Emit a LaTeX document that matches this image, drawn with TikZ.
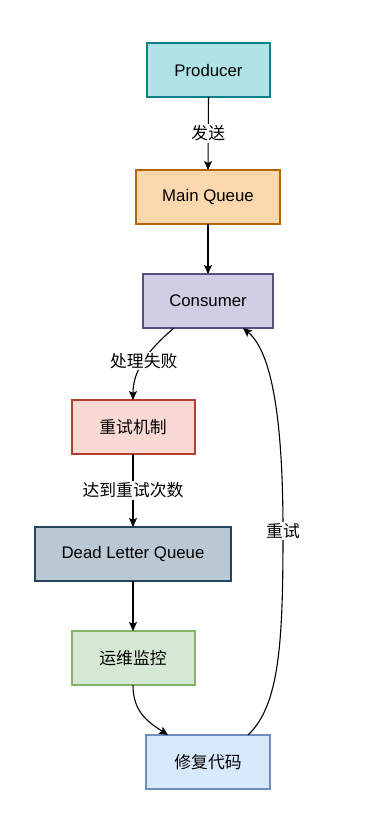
\documentclass[tikz,border=0pt]{standalone}
\usepackage{fontspec}
\setmainfont{Liberation Sans}
\newfontfamily\cjk{Noto Sans CJK SC}
\usetikzlibrary{arrows.meta,calc}
\definecolor{prodF}{HTML}{B0E3E6}\definecolor{prodD}{HTML}{0E8088}
\definecolor{mqF}{HTML}{FAD7AC}\definecolor{mqD}{HTML}{B46504}
\definecolor{conF}{HTML}{D0CEE2}\definecolor{conD}{HTML}{56517E}
\definecolor{retF}{HTML}{FAD9D5}\definecolor{retD}{HTML}{AE4132}
\definecolor{dlqF}{HTML}{BAC8D3}\definecolor{dlqD}{HTML}{23445D}
\definecolor{opsF}{HTML}{D5E8D4}\definecolor{opsD}{HTML}{82B366}
\definecolor{fixF}{HTML}{DAE8FC}\definecolor{fixD}{HTML}{6C8EBF}
\tikzset{
  box/.style={draw, line width=2pt, minimum width=123pt, minimum height=54pt, inner sep=0pt, outer sep=0pt, font=\fontsize{16.8pt}{20pt}\selectfont},
  conn/.style={draw=black, line width=1.1pt, -{Stealth[length=9pt,width=8pt,inset=2pt]}},
  lbl/.style={fill=white, inner sep=1.5pt, font=\fontsize{16.8pt}{20pt}\selectfont\cjk}
}
\begin{document}
\begin{tikzpicture}[x=1pt,y=-1pt]
\useasboundingbox[fill=white] (0,0) rectangle (374,838);
\node[box, fill=prodF, draw=prodD] (prod) at (208.5,70) {Producer};
\node[box, fill=mqF, draw=mqD, minimum width=144pt] (mq) at (208,197) {Main Queue};
\node[box, fill=conF, draw=conD, minimum width=130pt] (cons) at (208,301) {Consumer};
\node[box, fill=retF, draw=retD, font=\fontsize{16.8pt}{20pt}\selectfont\cjk] (retry) at (133,427) {重试机制};
\node[box, fill=dlqF, draw=dlqD, minimum width=196pt] (dlq) at (133,554) {Dead Letter Queue};
\node[box, fill=opsF, draw=opsD, font=\fontsize{16.8pt}{20pt}\selectfont\cjk] (ops) at (133,658) {运维监控};
\node[box, fill=fixF, draw=fixD, minimum width=124pt, font=\fontsize{16.8pt}{20pt}\selectfont\cjk] (fix) at (208,762) {修复代码};

\draw[conn] (prod.south) -- node[lbl] {发送} (mq.north);
\draw[conn] (mq.south) -- (cons.north);
\draw[conn] ([xshift=31pt]cons.south west) .. controls (148,350) and (133,370) .. node[lbl, pos=0.5] {处理失败} (retry.north);
\draw[conn] (retry.south) -- node[lbl] {达到重试次数} (dlq.north);
\draw[conn] (dlq.south) -- (ops.north);
\draw[conn] (ops.south) .. controls (133,712) and (148,722) .. ([xshift=-40pt]fix.north);
\coordinate (rtmid) at (283,531);
\draw[conn] ([xshift=40pt]fix.north) .. controls (280,705) and (283,640) .. (rtmid) .. controls (283,420) and (272,352) .. ([xshift=35pt]cons.south);
\node[lbl] (rtlbl) at (rtmid) {重试};
\end{tikzpicture}
\end{document}
